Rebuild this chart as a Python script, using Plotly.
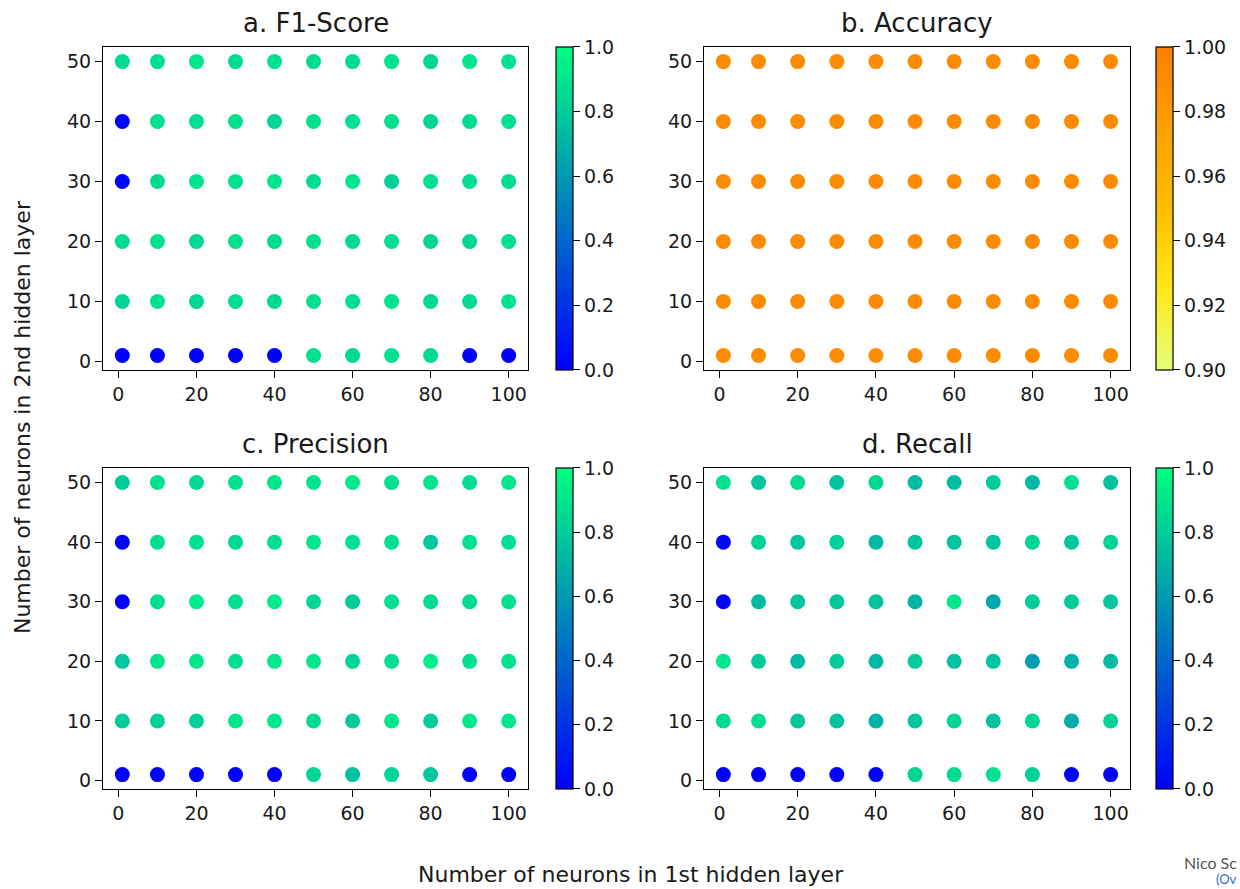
import plotly.graph_objects as go

# ---------------- data ----------------
neurons_l1 = [1, 10, 20, 30, 40, 50, 60, 70, 80, 90, 100]
neurons_l2 = [50, 40, 30, 20, 10, 1]  # rows top -> bottom

f1_score = [
    [0.85, 0.87, 0.90, 0.86, 0.89, 0.86, 0.86, 0.89, 0.84, 0.90, 0.88],
    [0.02, 0.88, 0.87, 0.88, 0.83, 0.88, 0.88, 0.88, 0.84, 0.86, 0.87],
    [0.02, 0.85, 0.89, 0.88, 0.90, 0.86, 0.90, 0.82, 0.88, 0.87, 0.86],
    [0.86, 0.89, 0.85, 0.88, 0.86, 0.88, 0.85, 0.87, 0.84, 0.84, 0.88],
    [0.83, 0.88, 0.84, 0.87, 0.85, 0.88, 0.87, 0.89, 0.85, 0.85, 0.89],
    [0.00, 0.00, 0.00, 0.00, 0.00, 0.88, 0.85, 0.88, 0.85, 0.00, 0.00],
]
accuracy = [
    [0.991, 0.990, 0.991, 0.990, 0.991, 0.992, 0.991, 0.991, 0.990, 0.991, 0.991],
    [0.991, 0.991, 0.991, 0.990, 0.991, 0.992, 0.991, 0.991, 0.991, 0.991, 0.991],
    [0.991, 0.991, 0.991, 0.991, 0.991, 0.991, 0.991, 0.991, 0.991, 0.991, 0.991],
    [0.991, 0.991, 0.991, 0.991, 0.991, 0.991, 0.991, 0.991, 0.991, 0.991, 0.991],
    [0.991, 0.991, 0.991, 0.992, 0.991, 0.991, 0.991, 0.991, 0.991, 0.991, 0.991],
    [0.990, 0.990, 0.990, 0.990, 0.990, 0.991, 0.991, 0.991, 0.991, 0.990, 0.990],
]
precision = [
    [0.80, 0.88, 0.85, 0.88, 0.90, 0.89, 0.92, 0.88, 0.90, 0.87, 0.90],
    [0.00, 0.88, 0.88, 0.85, 0.88, 0.90, 0.88, 0.87, 0.78, 0.88, 0.87],
    [0.00, 0.87, 0.92, 0.87, 0.92, 0.84, 0.80, 0.87, 0.85, 0.86, 0.88],
    [0.78, 0.90, 0.90, 0.87, 0.91, 0.90, 0.83, 0.87, 0.93, 0.88, 0.89],
    [0.80, 0.82, 0.82, 0.90, 0.90, 0.86, 0.80, 0.90, 0.80, 0.91, 0.90],
    [0.00, 0.00, 0.00, 0.00, 0.00, 0.84, 0.76, 0.83, 0.78, 0.00, 0.00],
]
recall = [
    [0.88, 0.78, 0.86, 0.77, 0.84, 0.74, 0.74, 0.80, 0.72, 0.88, 0.76],
    [0.02, 0.82, 0.78, 0.82, 0.72, 0.77, 0.77, 0.77, 0.84, 0.78, 0.82],
    [0.02, 0.73, 0.77, 0.78, 0.77, 0.70, 0.90, 0.66, 0.80, 0.80, 0.78],
    [0.90, 0.80, 0.72, 0.80, 0.72, 0.80, 0.76, 0.77, 0.62, 0.70, 0.74],
    [0.85, 0.86, 0.78, 0.76, 0.70, 0.78, 0.84, 0.76, 0.84, 0.68, 0.82],
    [0.00, 0.00, 0.00, 0.00, 0.00, 0.84, 0.86, 0.88, 0.82, 0.00, 0.00],
]

titles = ["a. F1-Score", "b. Accuracy", "c. Precision", "d. Recall"]
x_ticks = [0, 20, 40, 60, 80, 100]
y_ticks = [0, 10, 20, 30, 40, 50]
cb_ticks_main = [0.0, 0.2, 0.4, 0.6, 0.8, 1.0]
cb_ticks_acc = [0.90, 0.92, 0.94, 0.96, 0.98, 1.00]

# ---------------- styling ----------------
W, H = 1240, 889
FONT = "DejaVu Sans"
TXT = "#1a1a1a"
winter = [[0, "#0000ff"], [1, "#00ff80"]]
wistia = [[0.0, "#e4ff7a"], [0.25, "#ffe81a"], [0.5, "#ffbd00"],
          [0.75, "#ffa000"], [1.0, "#fc7f00"]]

def px_x(v):
    return v / W

def px_y(v):
    return 1 - v / H

cols = [(103, 528, 556), (704, 1130, 1156)]
rows = [(47, 371), (469, 791)]

panels = [
    (f1_score, 0, 0, winter, 0.0, 1.0, cb_ticks_main, ".1f"),
    (accuracy, 0, 1, wistia, 0.90, 1.00, cb_ticks_acc, ".2f"),
    (precision, 1, 0, winter, 0.0, 1.0, cb_ticks_main, ".1f"),
    (recall, 1, 1, winter, 0.0, 1.0, cb_ticks_main, ".1f"),
]

fig = go.Figure()
layout = dict(
    width=W, height=H,
    margin=dict(l=0, r=0, t=0, b=0),
    paper_bgcolor="white", plot_bgcolor="white",
    showlegend=False,
    font=dict(family=FONT, color=TXT, size=18),
)
annotations = []

for i, (vals, r, c, cs, cmin, cmax, cbt, fmt) in enumerate(panels):
    idx = "" if i == 0 else str(i + 1)
    xs, ys, cs_vals = [], [], []
    for ri, yv in enumerate(neurons_l2):
        for ci, xv in enumerate(neurons_l1):
            xs.append(xv)
            ys.append(yv)
            cs_vals.append(vals[ri][ci])
    ca = "coloraxis" + idx
    fig.add_trace(go.Scatter(
        x=xs, y=ys, mode="markers",
        xaxis="x" + idx, yaxis="y" + idx,
        marker=dict(size=15, color=cs_vals, coloraxis=ca, line=dict(width=0)),
        hoverinfo="x+y",
    ))
    x0, x1, cbx = cols[c]
    y0, y1 = rows[r]
    axis_common = dict(
        showline=True, mirror=True, linecolor="black", linewidth=1.2,
        ticks="outside", ticklen=7, tickwidth=1.2, tickcolor="black",
        showgrid=False, zeroline=False,
        tickfont=dict(family=FONT, size=19, color=TXT),
    )
    layout["xaxis" + idx] = dict(
        domain=[px_x(x0), px_x(x1)], anchor="y" + idx,
        range=[-3.95, 104.95], tickvals=x_ticks, **axis_common)
    layout["yaxis" + idx] = dict(
        domain=[px_y(y1), px_y(y0)], anchor="x" + idx,
        range=[-1.45, 52.45], tickvals=y_ticks, **axis_common)
    layout[ca] = dict(
        colorscale=cs, cmin=cmin, cmax=cmax,
        colorbar=dict(
            x=px_x(cbx), xanchor="left", xpad=0,
            y=px_y(y0), yanchor="top", ypad=0,
            len=(y1 - y0) / H, lenmode="fraction",
            thickness=17, thicknessmode="pixels",
            outlinewidth=1.2, outlinecolor="black",
            ticks="outside", ticklen=7, tickwidth=1.2, tickcolor="black",
            tickvals=cbt, tickformat=fmt,
            tickfont=dict(family=FONT, size=19, color=TXT),
        ),
    )
    annotations.append(dict(
        text=titles[i], x=px_x((x0 + x1) / 2), y=px_y(y0 - 7),
        xref="paper", yref="paper", xanchor="center", yanchor="bottom",
        showarrow=False, font=dict(family=FONT, size=26, color=TXT),
    ))

annotations.append(dict(
    text="Number of neurons in 2nd hidden layer", textangle=-90,
    x=px_x(22), y=px_y(418), xref="paper", yref="paper",
    xanchor="center", yanchor="middle", showarrow=False,
    font=dict(family=FONT, size=22, color=TXT),
))
annotations.append(dict(
    text="Number of neurons in 1st hidden layer",
    x=px_x(631), y=px_y(876), xref="paper", yref="paper",
    xanchor="center", yanchor="middle", showarrow=False,
    font=dict(family=FONT, size=22, color=TXT),
))
annotations.append(dict(
    text="Nico Sc",
    x=px_x(1239), y=px_y(864), xref="paper", yref="paper",
    xanchor="right", yanchor="middle", showarrow=False,
    font=dict(family="Lato", size=16, color="#555555"),
))
annotations.append(dict(
    text="(Ov",
    x=px_x(1239), y=px_y(881), xref="paper", yref="paper",
    xanchor="right", yanchor="middle", showarrow=False,
    font=dict(family="Lato", size=13, color="#3366cc"),
))
layout["annotations"] = annotations
fig.update_layout(**layout)
fig.write_html("out.html")
